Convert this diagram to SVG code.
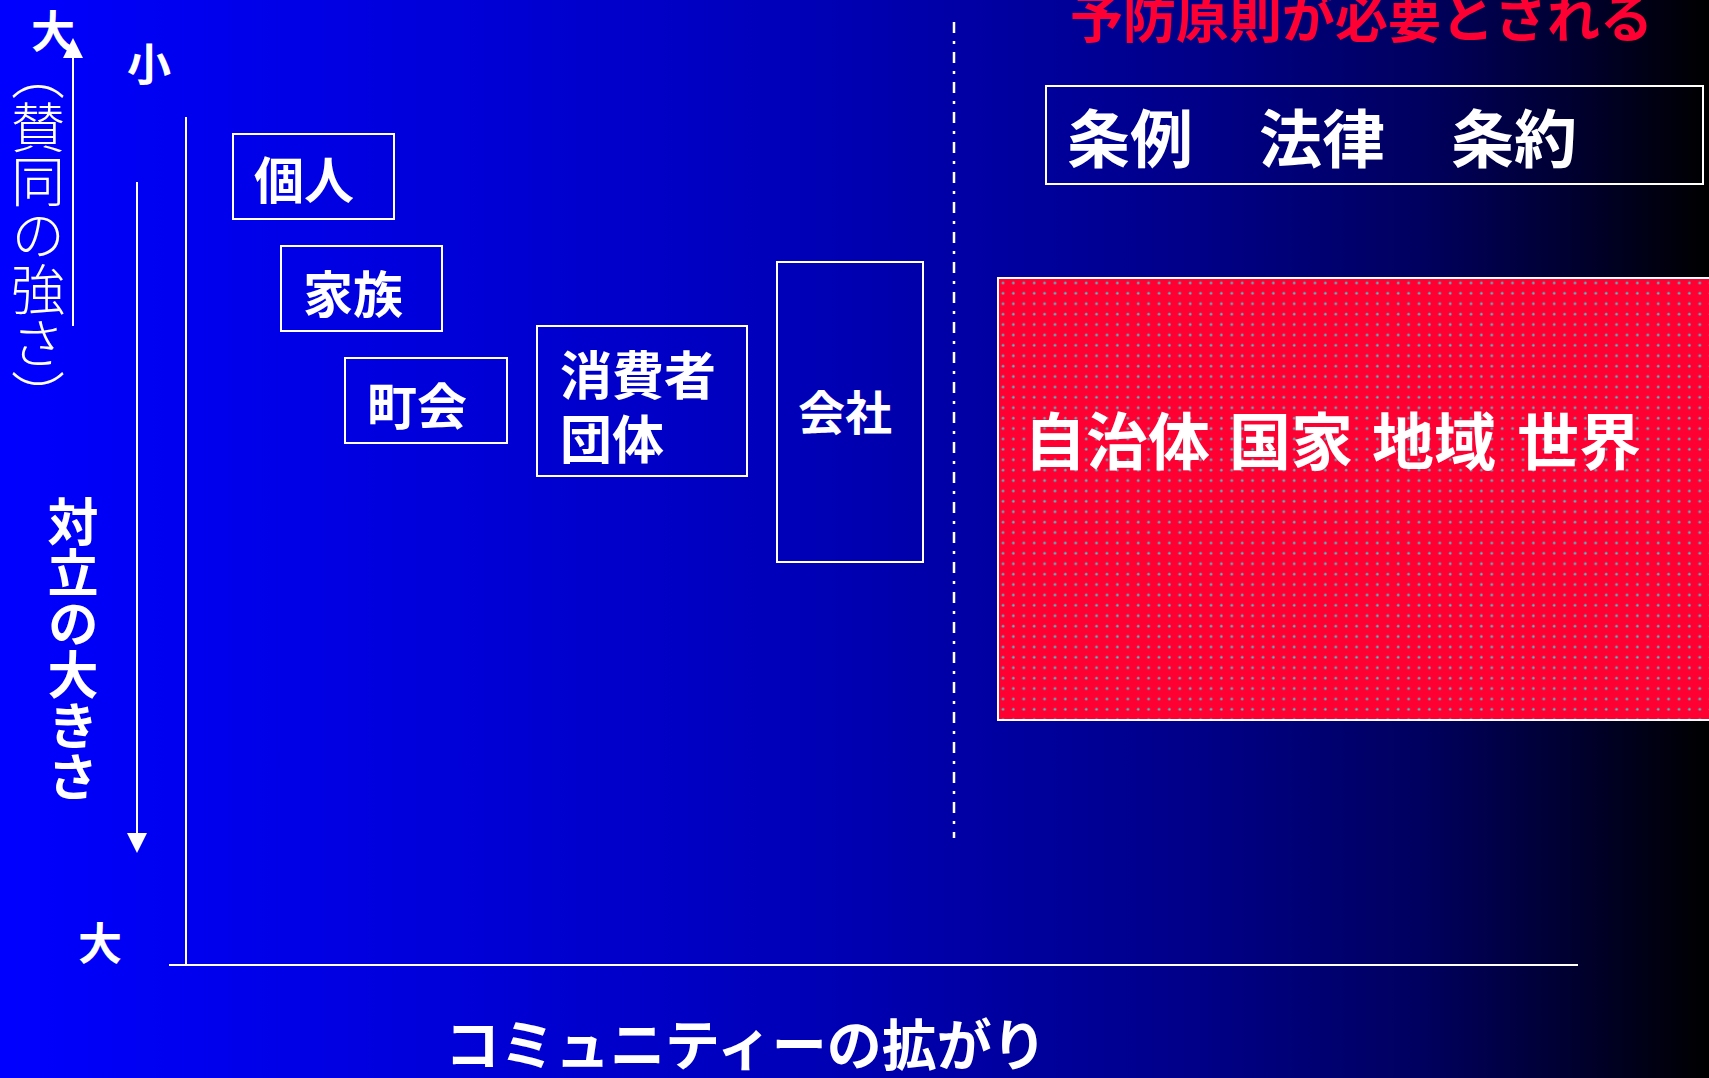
<svg xmlns="http://www.w3.org/2000/svg" width="1709" height="1078" viewBox="0 0 1709 1078">
<defs>
<linearGradient id="bg" x1="0" y1="0" x2="1709" y2="0" gradientUnits="userSpaceOnUse">
<stop offset="0" stop-color="#0000ff"/>
<stop offset="0.2" stop-color="#0000e2"/>
<stop offset="0.4" stop-color="#0000c4"/>
<stop offset="0.55" stop-color="#0000a8"/>
<stop offset="0.7" stop-color="#000088"/>
<stop offset="0.83" stop-color="#000060"/>
<stop offset="0.92" stop-color="#000030"/>
<stop offset="1" stop-color="#000000"/>
</linearGradient>
<pattern id="dots" x="998" y="278" width="10.4" height="10.4" patternUnits="userSpaceOnUse">
<rect width="10.4" height="10.4" fill="#ff0033"/>
<circle cx="5" cy="5" r="1.6" fill="#8a8a9a" opacity="0.6"/>
<circle cx="5" cy="5" r="1" fill="#33d0d0"/>
</pattern>
</defs>
<style>
.t{font-family:"Noto Sans CJK JP","Noto Sans CJK SC",sans-serif;font-weight:bold;fill:#ffffff;}
.thin{font-family:"Noto Sans CJK JP","Noto Sans CJK SC",sans-serif;font-weight:300;fill:#ffffff;}
.box{fill:none;stroke:#ffffff;stroke-width:2;}
.ln{stroke:#ffffff;stroke-width:2;fill:none;}
.head{fill:#ffffff;}
.v{writing-mode:vertical-rl;}
</style>
<rect x="0" y="0" width="1709" height="1078" fill="url(#bg)"/>

<g id="connectors">
<line class="ln" x1="186" y1="117" x2="186" y2="965"/>
<line class="ln" x1="169" y1="965" x2="1578" y2="965"/>
<line class="ln" x1="73" y1="326" x2="73" y2="50"/>
<polygon class="head" points="73,38 63,58 83,58"/>
<line class="ln" x1="137" y1="182" x2="137" y2="840"/>
<polygon class="head" points="137,853 127,833 147,833"/>
<line x1="954" y1="22" x2="954" y2="838" stroke="#ffffff" stroke-width="2.5" stroke-dasharray="11 8 3 8"/>
</g>

<g id="axis-labels">
<text class="t" x="53" y="48" font-size="44" text-anchor="middle">大</text>
<text class="t" x="149" y="81" font-size="44" text-anchor="middle">小</text>
<text class="t" x="100" y="960" font-size="44" text-anchor="middle">大</text>
<text class="thin v" x="38" y="46" font-size="54">（賛同の強さ）</text>
<text class="t v" x="73" y="496" font-size="51">対立の大きさ</text>
<text class="t" x="445" y="1065" font-size="55">コミュニティーの拡がり</text>
</g>

<g id="title">
<text class="t" x="1070" y="38" font-size="53" style="fill:#ff0033">予防原則が必要とされる</text>
</g>

<g id="node-kojin">
<rect class="box" x="233" y="134" width="161" height="85"/>
<text class="t" x="254" y="199" font-size="50">個人</text>
</g>
<g id="node-kazoku">
<rect class="box" x="281" y="246" width="161" height="85"/>
<text class="t" x="303" y="313" font-size="50">家族</text>
</g>
<g id="node-chokai">
<rect class="box" x="345" y="358" width="162" height="85"/>
<text class="t" x="367" y="425" font-size="50">町会</text>
</g>
<g id="node-shohisha">
<rect class="box" x="537" y="326" width="210" height="150"/>
<text class="t" font-size="52"><tspan x="560" y="395">消費者</tspan><tspan x="560" y="459">団体</tspan></text>
</g>
<g id="node-kaisha">
<rect class="box" x="777" y="262" width="146" height="300"/>
<text class="t" x="798" y="430" font-size="47">会社</text>
</g>
<g id="node-hoki">
<rect class="box" x="1046" y="86" width="657" height="98"/>
<text class="t" y="162" font-size="63"><tspan x="1067">条例</tspan><tspan x="1259">法律</tspan><tspan x="1451">条約</tspan></text>
</g>
<g id="node-jichitai">
<rect x="998" y="278" width="720" height="442" fill="url(#dots)" stroke="#ffffff" stroke-width="2"/>
<text class="t" y="465" font-size="62"><tspan x="1024">自治体</tspan><tspan x="1229">国家</tspan><tspan x="1372">地域</tspan><tspan x="1517">世界</tspan></text>
</g>
</svg>
